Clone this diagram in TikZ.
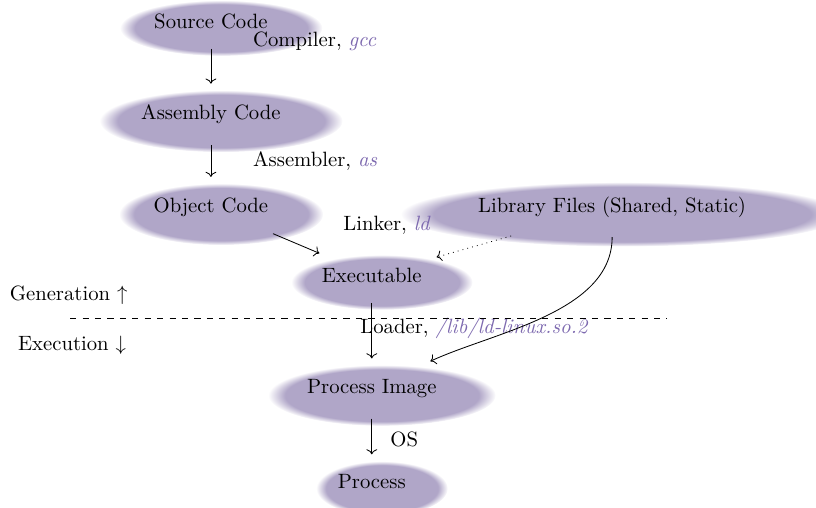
\documentclass[tikz,border=0pt]{standalone}
\usepackage{tikz}
\usetikzlibrary{calc,arrows.meta,positioning,shapes.geometric,shadows,fadings}
\usepackage{xcolor}
\definecolor{stageColor}{RGB}{176,166,200}
\definecolor{toolColor}{RGB}{125,105,175}
\newcommand{\toolname}[1]{\textcolor{toolColor}{\textit{#1}}}

\begin{document}
\begin{tikzpicture}[
        stage/.style={ellipse, inner xsep=4pt, inner ysep=5pt, circular drop shadow={fill=stageColor, opacity=1, shadow xshift=4.5pt, shadow yshift=-3pt}},
        lbl/.style={inner sep=0pt, anchor=west},
        arr/.style={->, shorten <=1pt, shorten >=1pt},
        slant/.style={->, shorten <=4pt, shorten >=2pt},
        node distance=1.58cm, on grid
      ]
      \useasboundingbox (0,0) rectangle (13.85,-8.62);

      \node[stage] (src) at (3.58,-0.36) {Source Code};
      \node[stage, below=of src] (asm) {Assembly Code};
      \node[stage, below=of asm] (obj) {Object Code};
      \node[stage, right=6.81cm of obj] (lib) {Library Files (Shared, Static)};
      \node[stage, below right=1.155cm and 2.73cm of obj] (exe) {Executable};
      \node[stage, below=1.92cm of exe] (pimg) {Process Image};
      \node[stage, below=of pimg] (proc) {Process};

      \node[below right=0.34cm and 0.71cm of src, lbl] (cc) {Compiler, \toolname{gcc}};
      \node[below right=0.80cm and 0.71cm of asm, lbl] (as) {Assembler, \toolname{as}};
      \node[below right=0.31cm and 2.24cm of obj, lbl] (ld) {Linker, \toolname{ld}};
      \node[below left=0.90cm and 0.20cm of exe, lbl] (load) {Loader, \toolname{/lib/ld-linux.so.2}};
      \node[below right=0.87cm and 0.31cm of pimg, lbl] (os) {OS};
      \node[below left=0.34cm and 6.15cm of exe, lbl] (gen) {Generation $\uparrow$};
      \node[below left=1.19cm and 6.01cm of exe, lbl] (run) {Execution $\downarrow$};

      \coordinate (cutL) at (1.19,-5.40);
      \coordinate (cutR) at (11.32,-5.40);
      \draw[dashed] (cutL) -- (cutR);

      \draw[arr] (src) -- (asm);
      \draw[arr] (asm) -- (obj);
      \draw[slant] (obj) -- (exe);
      \draw[slant, dotted] (lib) -- (exe);
      \draw[arr] (exe) -- (pimg);
      \draw[->, shorten >=3.5pt] (lib) to[out=-90, in=25, looseness=0.85] (pimg);
      \draw[arr] (pimg) -- (proc);
    \end{tikzpicture}
\end{document}
